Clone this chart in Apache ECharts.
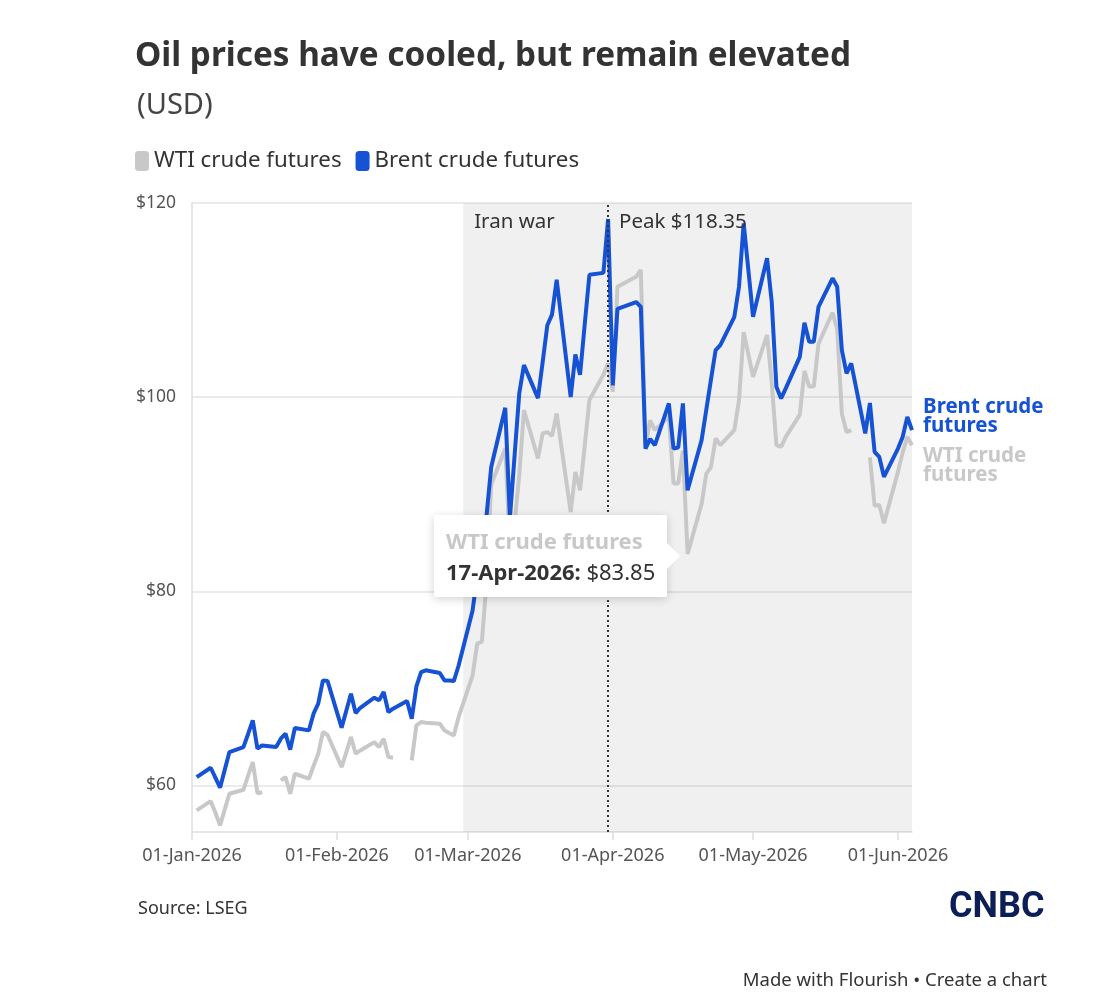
<!DOCTYPE html>
<html lang="en">
<head>
  <meta charset="UTF-8">
  <title>Oil prices have cooled, but remain elevated</title>
  <script src="https://cdn.jsdelivr.net/npm/echarts@6.0.0/dist/echarts.min.js"></script>
  <style>
    * { margin: 0; padding: 0; box-sizing: border-box; }
    body { background: #fff; }
    #chart { width: 1106px; height: 998px; }
  </style>
</head>
<body>
  <div id="chart"></div>

  <script>
    // trading days (Good Friday 3 Apr has no data for either contract)
    var dates = [
      '2026-01-02','2026-01-05','2026-01-06','2026-01-07','2026-01-08','2026-01-09',
      '2026-01-12','2026-01-13','2026-01-14','2026-01-15','2026-01-16',
      '2026-01-19','2026-01-20','2026-01-21','2026-01-22','2026-01-23',
      '2026-01-26','2026-01-27','2026-01-28','2026-01-29','2026-01-30',
      '2026-02-02','2026-02-03','2026-02-04','2026-02-05','2026-02-06',
      '2026-02-09','2026-02-10','2026-02-11','2026-02-12','2026-02-13',
      '2026-02-16','2026-02-17','2026-02-18','2026-02-19','2026-02-20',
      '2026-02-23','2026-02-24','2026-02-25','2026-02-26','2026-02-27',
      '2026-03-02','2026-03-03','2026-03-04','2026-03-05','2026-03-06',
      '2026-03-09','2026-03-10','2026-03-11','2026-03-12','2026-03-13',
      '2026-03-16','2026-03-17','2026-03-18','2026-03-19','2026-03-20',
      '2026-03-23','2026-03-24','2026-03-25','2026-03-26','2026-03-27',
      '2026-03-30','2026-03-31',
      '2026-04-01','2026-04-02','2026-04-06','2026-04-07','2026-04-08','2026-04-09','2026-04-10',
      '2026-04-13','2026-04-14','2026-04-15','2026-04-16','2026-04-17',
      '2026-04-20','2026-04-21','2026-04-22','2026-04-23','2026-04-24',
      '2026-04-27','2026-04-28','2026-04-29','2026-04-30',
      '2026-05-01','2026-05-04','2026-05-05','2026-05-06','2026-05-07','2026-05-08',
      '2026-05-11','2026-05-12','2026-05-13','2026-05-14','2026-05-15',
      '2026-05-18','2026-05-19','2026-05-20','2026-05-21','2026-05-22',
      '2026-05-25','2026-05-26','2026-05-27','2026-05-28','2026-05-29',
      '2026-06-01','2026-06-02','2026-06-03','2026-06-04'
    ];

    var wti = [
      57.42, 58.38, 57.2, 55.88, 57.5, 59.14, 59.55, 61.0, 62.4, 59.2, 59.3,
      null, 60.52, 60.86, 59.14, 61.2, 60.69, 62.0, 63.27, 65.5, 65.2,
      61.89, 63.4, 64.98, 63.27, 63.6, 64.46, 63.95, 64.81, 62.92, 62.86,
      null, 62.58, 66.19, 66.53, 66.45, 66.36, 65.67, 65.4, 65.15, 67.0,
      71.3, 74.6, 74.8, 81.0, 91.0, 94.7, 84.5, 87.0, 92.0, 98.66,
      93.68, 96.26, 96.4, 96.0, 98.32, 88.17, 92.3, 90.41, 95.0, 99.7,
      102.3, 103.5,
      100.55, 111.37, 112.4, 113.1, 94.9, 97.6, 96.6,
      98.0, 91.1, 91.1, 94.5, 83.85,
      89.0, 92.1, 92.8, 95.74, 95.05, 96.6, 99.7, 106.7, 104.4,
      102.1, 106.4, 101.5, 95.05, 94.88, 95.9,
      98.2, 102.7, 101.1, 101.1, 105.5,
      108.7, 107.0, 98.3, 96.4, 96.6,
      null, 93.8, 88.8, 88.9, 87.0,
      92.3, 94.3, 95.9, 95.05
    ];

    var brent = [
      60.86, 61.82, 60.8, 59.76, 61.6, 63.43, 63.95, 65.3, 66.7, 63.78, 64.12,
      63.95, 64.81, 65.33, 63.68, 65.91, 65.67, 67.39, 68.42, 70.82, 70.75,
      65.95, 67.7, 69.45, 67.45, 68.0, 69.04, 68.76, 69.62, 67.56, 67.9,
      68.69, 66.88, 70.2, 71.68, 71.86, 71.58, 70.82, 70.8, 70.75, 72.3,
      78.0, 81.5, 84.5, 87.8, 92.8, 98.9, 87.5, 94.0, 100.4, 103.3,
      99.9, 103.6, 107.4, 108.5, 112.1, 100.0, 104.4, 102.3, 107.5, 112.6,
      112.8, 118.35,
      101.2, 109.1, 109.8, 109.3, 94.7, 95.7, 95.05,
      99.35, 94.7, 94.8, 99.35, 90.4,
      95.57, 98.7, 101.8, 104.85, 105.36, 108.28, 111.37, 117.9, 113.1,
      108.28, 114.3, 109.8, 101.06, 99.87, 100.9,
      104.15, 107.66, 105.7, 105.7, 109.3,
      112.24, 111.37, 104.85, 102.45, 103.47,
      96.26, 99.4, 94.36, 93.85, 91.79,
      94.7, 95.9, 97.97, 96.6
    ];

    var seriesNames = ['WTI crude futures', 'Brent crude futures'];
    var yTicks = [60, 80, 100, 120];
    var xTicks = ['2026-01-01', '2026-02-01', '2026-03-01', '2026-04-01', '2026-05-01', '2026-06-01'];
    var warStart = '2026-02-28';
    var peakDate = '2026-03-31';
    var tipDate = '2026-04-17';

    var MONTHS = ['Jan','Feb','Mar','Apr','May','Jun','Jul','Aug','Sep','Oct','Nov','Dec'];
    var FONT = '"Noto Sans", sans-serif';
    var BLUE = '#1652d4';
    var GREY = '#c8c8c8';

    function ts(d) {
      var p = d.split('-');
      return Date.UTC(+p[0], +p[1] - 1, +p[2]);
    }

    function fmtDate(v) {
      var d = new Date(v);
      var day = d.getUTCDate();
      return (day < 10 ? '0' + day : '' + day) + '-' + MONTHS[d.getUTCMonth()] + '-' + d.getUTCFullYear();
    }

    function pairs(vals) {
      return dates.map(function (d, i) { return [ts(d), vals[i]]; });
    }

    var xTickValues = xTicks.map(ts);
    var peakIdx = dates.indexOf(peakDate);
    var tipIdx = dates.indexOf(tipDate);
    var lastDay = ts(dates[dates.length - 1]);

    var chartDom = document.getElementById('chart');
    var myChart = echarts.init(chartDom, null, { renderer: 'canvas' });

    var option = {
      animation: false,
      textStyle: { fontFamily: FONT },
      title: [
        {
          text: 'Oil prices have cooled, but remain elevated',
          left: 130, top: 35,
          textStyle: { fontSize: 33.3, fontWeight: 700, color: '#333', fontFamily: FONT }
        },
        {
          text: '(USD)',
          left: 132, top: 86,
          textStyle: { fontSize: 29, fontWeight: 400, color: '#444', fontFamily: FONT }
        },
        {
          text: 'Source: LSEG',
          left: 133, top: 895,
          textStyle: { fontSize: 18, fontWeight: 400, color: '#333', fontFamily: FONT }
        },
        {
          text: 'Made with Flourish \u2022 Create a chart',
          right: 54, top: 966,
          textStyle: { fontSize: 18.5, fontWeight: 400, color: '#333', fontFamily: FONT }
        }
      ],
      legend: {
        left: 130, top: 145,
        icon: 'roundRect',
        itemWidth: 14, itemHeight: 20,
        itemGap: 14,
        data: [
          { name: seriesNames[0], itemStyle: { color: GREY, opacity: 1 } },
          { name: seriesNames[1], itemStyle: { color: BLUE, opacity: 1 } }
        ],
        textStyle: { fontSize: 22.3, color: '#333', fontFamily: FONT }
      },
      grid: { left: 192, right: 194, top: 203, bottom: 166 },
      tooltip: {
        trigger: 'item',
        triggerOn: 'none',
        alwaysShowContent: true,
        transitionDuration: 0,
        backgroundColor: '#fff',
        borderWidth: 0,
        padding: [10, 12],
        extraCssText: 'box-shadow:0 2px 10px rgba(0,0,0,0.18);border-radius:2px;overflow:visible;',
        position: function (point, params, dom, rect, size) {
          return [point[0] - size.contentSize[0] - 21, point[1] - size.contentSize[1] / 2 + 2];
        },
        formatter: function (p) {
          var arrow = '<div style="position:absolute;right:-25px;top:50%;margin-top:-13px;width:0;height:0;' +
            'border-top:13px solid transparent;border-bottom:13px solid transparent;border-left:13px solid #fff;"></div>';
          return '<div style="position:relative;font-family:' + FONT.replace(/"/g, "'") + ';">' +
            '<div style="font-size:22px;line-height:31px;font-weight:700;color:' + GREY + ';">' + p.seriesName + '</div>' +
            '<div style="font-size:22px;line-height:31px;color:#333;"><b>' + fmtDate(p.value[0]) + ':</b> $' +
            p.value[1].toFixed(2) + '</div>' + arrow + '</div>';
        }
      },
      xAxis: {
        type: 'value',
        min: ts('2026-01-01'),
        max: lastDay,
        axisLine: { show: true, lineStyle: { color: '#dedede', width: 1.5 } },
        axisTick: { show: true, length: 8, customValues: xTickValues, lineStyle: { color: '#dedede', width: 1.5 } },
        axisLabel: {
          customValues: xTickValues,
          formatter: fmtDate,
          fontSize: 18, color: '#555', margin: 15, fontFamily: FONT,
          hideOverlap: false, showMinLabel: true, showMaxLabel: true
        },
        splitLine: { show: false }
      },
      yAxis: {
        type: 'value',
        min: 55.2, max: 120,
        axisLine: { show: true, lineStyle: { color: '#dedede', width: 1.5 } },
        axisTick: { show: false, customValues: yTicks },
        axisLabel: {
          customValues: yTicks,
          formatter: '${value}',
          fontSize: 17.5, color: '#555', margin: 16, fontFamily: FONT
        },
        splitLine: { show: true, lineStyle: { color: '#e4e4e4', width: 1.5 } }
      },
      series: [
        {
          name: seriesNames[0],
          type: 'line',
          data: pairs(wti),
          connectNulls: false,
          showSymbol: true,
          showAllSymbol: true,
          symbol: 'circle',
          symbolSize: 2,
          itemStyle: { color: GREY, opacity: 0 },
          color: GREY,
          lineStyle: { width: 4, color: GREY },
          emphasis: { disabled: true },
          endLabel: {
            show: true,
            formatter: 'WTI crude\nfutures',
            color: GREY, fontWeight: 700, fontSize: 20.5, lineHeight: 19,
            distance: 11, offset: [0, 20], fontFamily: FONT
          },
          markArea: {
            silent: true,
            itemStyle: { color: 'rgba(0,0,0,0.058)' },
            label: {
              show: true, position: 'insideTopLeft', distance: 8, offset: [3, 1],
              color: '#333', fontSize: 20.5, fontFamily: FONT
            },
            data: [[{ name: 'Iran war', xAxis: ts(warStart) }, { xAxis: lastDay }]]
          },
          markLine: {
            silent: true,
            symbol: ['none', 'none'],
            label: { show: false },
            lineStyle: { type: [2, 3], color: '#333', width: 2 },
            data: [{ xAxis: ts(peakDate) }]
          }
        },
        {
          name: seriesNames[1],
          type: 'line',
          data: pairs(brent),
          showSymbol: false,
          color: BLUE,
          lineStyle: { width: 4, color: BLUE },
          emphasis: { disabled: true },
          endLabel: {
            show: true,
            formatter: 'Brent crude\nfutures',
            color: BLUE, fontWeight: 700, fontSize: 20.5, lineHeight: 19,
            distance: 11, offset: [0, -13], fontFamily: FONT
          },
          markPoint: {
            silent: true,
            symbol: 'circle', symbolSize: 0,
            label: {
              show: true, position: 'right', distance: 11, offset: [0, 3],
              formatter: 'Peak ${c}',
              color: '#333', fontSize: 20.5, fontFamily: FONT
            },
            data: [{ coord: [ts(peakDate), brent[peakIdx]], value: brent[peakIdx].toFixed(2) }]
          }
        }
      ],
      graphic: [
        {
          type: 'text',
          left: 949, top: 890,
          style: {
            text: 'CNBC',
            font: 'bold 36px "Roboto", sans-serif',
            fill: '#0b1e56'
          }
        }
      ]
    };

    myChart.setOption(option);

    // pin the tooltip on the WTI low of 17 April
    function pinTip() {
      myChart.dispatchAction({ type: 'showTip', seriesIndex: 0, dataIndex: tipIdx });
    }
    pinTip();
    setTimeout(pinTip, 30);

    window.addEventListener('resize', function () {
      myChart.resize();
    });
  </script>
</body>
</html>
